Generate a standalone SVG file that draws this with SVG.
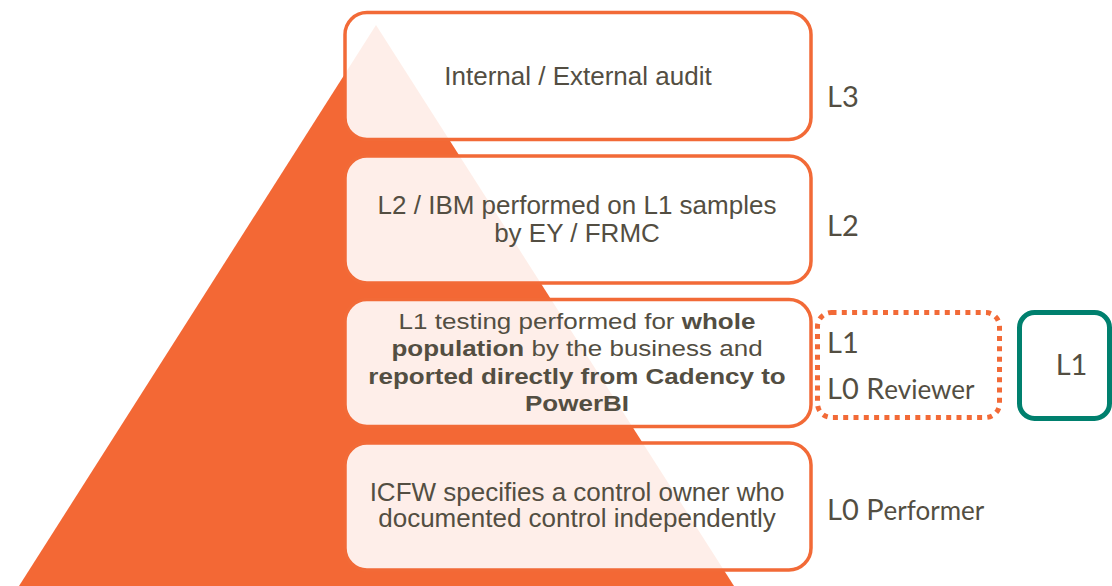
<svg xmlns="http://www.w3.org/2000/svg" width="1112" height="586" viewBox="0 0 1112 586">
<style>
.box{fill:#ffffff;fill-opacity:0.89;stroke:#f26a37;stroke-width:3.5}
.t{font-family:"Liberation Sans",Arial,sans-serif;font-size:26px;fill:#534e42;text-anchor:middle}
.b{font-weight:bold}
.lbl{font-family:Lato,"Open Sans",sans-serif;font-size:29px;fill:#534e42}
.sm{font-size:26px}
</style>
<rect width="1112" height="586" fill="#ffffff"/>
<g id="pyramid">
<polygon points="376,25 19,586 734,586" fill="#f36835"/>
</g>
<g id="connectors"></g>
<g id="box-l3">
<rect class="box" x="345" y="12.5" width="466" height="127" rx="22"/>
<text class="t" x="578" y="84.5">Internal / External audit</text>
</g>
<g id="box-l2">
<rect class="box" x="345" y="156" width="466" height="127" rx="22"/>
<text class="t" x="577" y="213.5">L2 / IBM performed on L1 samples</text>
<text class="t" x="577" y="241.5">by EY / FRMC</text>
</g>
<g id="box-l1">
<rect class="box" x="345" y="299.5" width="466" height="127" rx="22"/>
<g transform="translate(577,0) scale(1,0.865)">
<text class="t" x="0" y="379.8">L1 testing performed for <tspan class="b">whole</tspan></text>
<text class="t" x="0" y="411.6"><tspan class="b">population</tspan> by the business and</text>
<text class="t" x="0" y="443.4"><tspan class="b">reported directly from Cadency to</tspan></text>
<text class="t b" x="0" y="475.1">PowerBI</text>
</g>
</g>
<g id="box-l0">
<rect class="box" x="345" y="443" width="466" height="127" rx="22"/>
<text class="t" x="577" y="501">ICFW specifies a control owner who</text>
<text class="t" x="577" y="527">documented control independently</text>
</g>
<g id="label-l3"><text class="lbl" x="827" y="107">L3</text></g>
<g id="label-l2"><text class="lbl" x="827" y="235.5">L2</text></g>
<g id="group-reviewer">
<rect x="817.5" y="312.5" width="182" height="105" rx="14" fill="none" stroke="#f26a37" stroke-width="5" stroke-dasharray="5 5.3"/>
<text class="lbl" x="827" y="352.5">L1</text>
<text class="lbl" x="827" y="398.5">L0 R<tspan class="sm">eviewer</tspan></text>
</g>
<g id="label-performer"><text class="lbl" x="827" y="519.5">L0 P<tspan class="sm">erformer</tspan></text></g>
<g id="box-teal-l1">
<rect x="1019.5" y="312.5" width="90" height="106" rx="15" fill="none" stroke="#00806e" stroke-width="5"/>
<text class="lbl" x="1071.5" y="375" text-anchor="middle">L1</text>
</g>
</svg>
